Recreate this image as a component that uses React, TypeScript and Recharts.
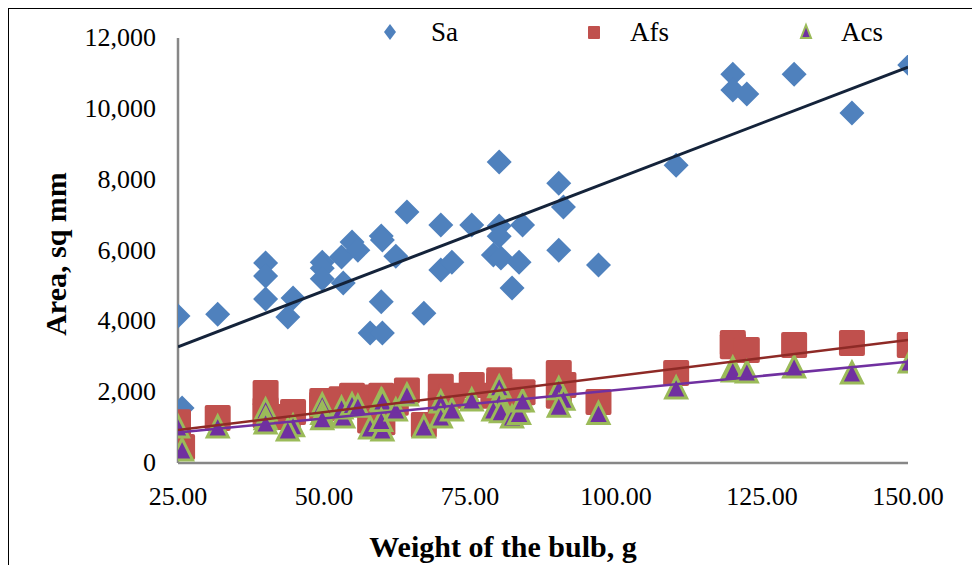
import React from 'react';
import { ScatterChart, Scatter, XAxis, YAxis } from 'recharts';

// Bulb weight (g) and areas (sq mm)
const weight = [25, 25.7, 31.8, 40, 40, 40, 44.7, 43.8, 49.7, 49.7, 49.7, 53.3, 53.0, 54.8, 55.8, 59.8, 60, 57.9, 60, 59.8, 62.3, 64.2, 67.1, 70, 70, 71.9, 75.3, 80, 80, 80, 79, 80.3, 82.2, 83.4, 84, 90.2, 91, 90.2, 97, 110.3, 120, 120, 122.4, 130.5, 140.4, 150.3];
const sa = [4150, 1550, 4200, 5650, 5280, 4630, 4660, 4120, 5670, 5500, 5200, 5080, 5820, 6240, 6010, 6410, 6300, 3670, 3670, 4550, 5840, 7090, 4230, 6720, 5450, 5670, 6720, 8500, 6690, 6400, 5870, 5790, 4940, 5670, 6720, 7900, 7230, 6010, 5590, 8410, 10980, 10530, 10420, 10980, 9880, 11240];
const afs = [1150, 450, 1270, 1980, 1500, 1350, 1440, 1300, 1750, 1650, 1550, 1700, 1800, 1900, 1850, 1900, 1850, 1200, 1150, 1400, 1700, 2050, 1070, 2150, 1700, 1900, 2200, 2340, 2200, 2100, 1900, 1850, 1600, 1800, 2000, 2540, 2200, 1900, 1720, 2540, 3390, 3300, 3190, 3330, 3390, 3330];
const acs = [1020, 370, 1020, 1500, 1250, 1130, 1050, 930, 1640, 1400, 1250, 1300, 1550, 1650, 1600, 1780, 1750, 990, 930, 1200, 1500, 1920, 1020, 1720, 1300, 1500, 1780, 2150, 1800, 1700, 1500, 1450, 1300, 1400, 1750, 2100, 1800, 1600, 1400, 2120, 2680, 2600, 2570, 2710, 2540, 2850];

// Linear trend lines (end points)
const trendX = [25, 150];
const saTrend = [3280, 11180];
const afsTrend = [930, 3470];
const acsTrend = [860, 2860];

const xTicks = [25, 50, 75, 100, 125, 150];
const yTicks = [0, 2000, 4000, 6000, 8000, 10000, 12000];

const seriesNames = ['Sa', 'Afs', 'Acs'];
const xTitle = 'Weight of the bulb, g';
const yTitle = 'Area, sq mm';

const SA_COLOR = '#4F81BD';
const AFS_COLOR = '#C0504D';
const ACS_FILL = '#7030A0';
const ACS_STROKE = '#9BBB59';

const FONT = '"Liberation Serif", "Times New Roman", serif';

const toPoints = (ys: number[]) => weight.map((w, i) => ({ x: w, y: ys[i] }));
const toTrend = (ys: number[]) => trendX.map((x, i) => ({ x, y: ys[i] }));

const saData = toPoints(sa);
const afsData = toPoints(afs);
const acsData = toPoints(acs);

const Diamond = (p: any) => {
  const { cx, cy } = p;
  const r = 12.5;
  return <polygon points={`${cx},${cy - r} ${cx + r},${cy} ${cx},${cy + r} ${cx - r},${cy}`} fill={SA_COLOR} />;
};
const Square = (p: any) => {
  const { cx, cy } = p;
  const h = 13;
  return <rect x={cx - h} y={cy - h} width={2 * h} height={2 * h} rx={2} fill={AFS_COLOR} />;
};
const Triangle = (p: any) => {
  const { cx, cy } = p;
  const w = 10.5;
  const t = 11;
  return (
    <polygon
      points={`${cx},${cy - t} ${cx + w},${cy + t - 1} ${cx - w},${cy + t - 1}`}
      fill={ACS_FILL}
      stroke={ACS_STROKE}
      strokeWidth={3}
      strokeLinejoin="miter"
    />
  );
};
const NoDot = () => <g />;

const YTick = (p: any) => {
  const { y, payload } = p;
  return (
    <text x={156} y={y} dy={8} textAnchor="end" fontFamily={FONT} fontSize={26} fill="#000">
      {payload.value.toLocaleString('en-US')}
    </text>
  );
};
const XTick = (p: any) => {
  const { x, payload } = p;
  return (
    <text x={x} y={497} dy={8} textAnchor="middle" fontFamily={FONT} fontSize={26} fill="#000">
      {payload.value.toFixed(2)}
    </text>
  );
};

const Overlay = () => {
  const items = [
    { name: seriesNames[0], x: 390, tx: 431 },
    { name: seriesNames[1], x: 594, tx: 630 },
    { name: seriesNames[2], x: 806, tx: 841 },
  ];
  return (
    <svg width={980} height={573} style={{ position: 'absolute', left: 0, top: 0, pointerEvents: 'none' }}>
      {items.map((it, i) => (
        <g key={it.name}>
          {i === 0 && <polygon points={`${it.x},24 ${it.x + 6},32 ${it.x},40 ${it.x - 6},32`} fill={SA_COLOR} />}
          {i === 1 && <rect x={it.x - 6} y={26} width={12} height={13} rx={1} fill={AFS_COLOR} />}
          {i === 2 && (
            <polygon points={`${it.x},25 ${it.x + 5},38 ${it.x - 5},38`} fill={ACS_FILL} stroke={ACS_STROKE} strokeWidth={2} />
          )}
          <text x={it.tx} y={41} fontFamily={FONT} fontSize={27} fill="#000">
            {it.name}
          </text>
        </g>
      ))}
      <text
        x={0}
        y={0}
        transform="translate(66 254) rotate(-90)"
        textAnchor="middle"
        fontFamily={FONT}
        fontWeight="bold"
        fontSize={30}
        fill="#000"
      >
        {yTitle}
      </text>
      <text x={503} y={557} textAnchor="middle" fontFamily={FONT} fontWeight="bold" fontSize={30} fill="#000">
        {xTitle}
      </text>
    </svg>
  );
};

export default function App() {
  return (
    <div style={{ position: 'relative', width: 980, height: 573, margin: -8, background: '#fff', overflow: 'hidden' }}>
      <div
        style={{
          position: 'absolute',
          left: 7,
          top: 7,
          width: 1000,
          height: 600,
          borderLeft: '2px solid #000',
          borderTop: '2px solid #000',
        }}
      />
      <ScatterChart
        width={980}
        height={573}
        margin={{ top: 38, right: 72, bottom: 50, left: 100 }}
        style={{ position: 'absolute', left: 0, top: 0 }}
      >
        <XAxis
          type="number"
          dataKey="x"
          domain={[25, 150]}
          ticks={xTicks}
          allowDataOverflow
          height={60}
          axisLine={{ stroke: '#878787', strokeWidth: 2.5 }}
          tickLine={false}
          tick={<XTick />}
        />
        <YAxis
          type="number"
          dataKey="y"
          domain={[0, 12000]}
          ticks={yTicks}
          width={78}
          axisLine={{ stroke: '#878787', strokeWidth: 2.5 }}
          tickLine={false}
          tick={<YTick />}
        />
        <Scatter name={seriesNames[0]} data={saData} shape={<Diamond />} isAnimationActive={false} />
        <Scatter name={seriesNames[1]} data={afsData} shape={<Square />} isAnimationActive={false} />
        <Scatter name={seriesNames[2]} data={acsData} shape={<Triangle />} isAnimationActive={false} />
        <Scatter data={toTrend(saTrend)} line={{ stroke: '#14233A', strokeWidth: 3 }} shape={<NoDot />} legendType="none" isAnimationActive={false} />
        <Scatter data={toTrend(afsTrend)} line={{ stroke: '#8E2A26', strokeWidth: 2.5 }} shape={<NoDot />} legendType="none" isAnimationActive={false} />
        <Scatter data={toTrend(acsTrend)} line={{ stroke: '#7030A0', strokeWidth: 2.5 }} shape={<NoDot />} legendType="none" isAnimationActive={false} />
      </ScatterChart>
      <Overlay />
    </div>
  );
}
